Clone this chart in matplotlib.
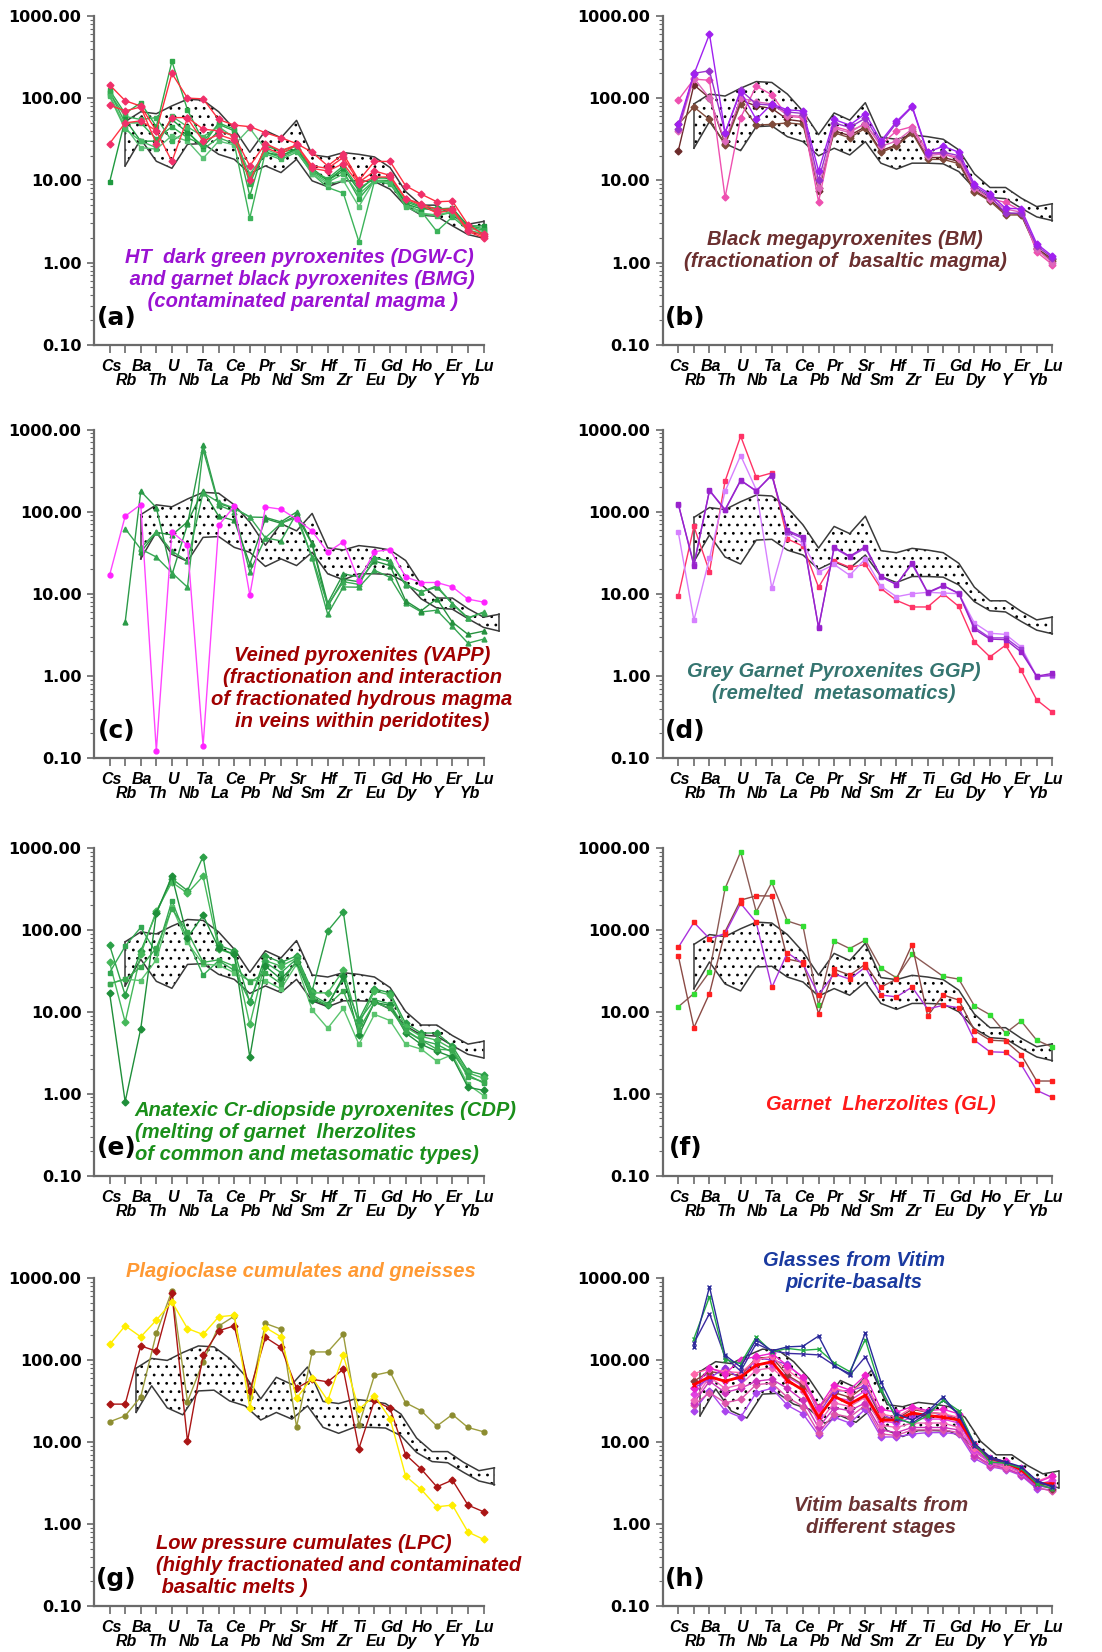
import numpy as np
import matplotlib
matplotlib.use("Agg")
import matplotlib.pyplot as plt
from matplotlib.ticker import FixedLocator, LogLocator, NullFormatter, FuncFormatter

nan = np.nan

ELEMENTS = ["Cs", "Rb", "Ba", "Th", "U", "Nb", "Ta", "La", "Ce", "Pb", "Pr", "Nd", "Sr",
            "Sm", "Hf", "Zr", "Ti", "Eu", "Gd", "Dy", "Ho", "Y", "Er", "Yb", "Lu"]
Y_TICKS = [0.1, 1, 10, 100, 1000]

# Stippled reference field (upper / lower envelope)
FIELD_UPPER = [nan, 85, 112, 106, 132, 159, 155, 112, 69, 36, 66, 54, 88, 33.5, 31.6, 35.7,
               34, 31.6, 23.5, 12, 8.2, 8.2, 6.1, 4.8, 5.2]
FIELD_LOWER = [nan, 24.6, 52, 28, 23, 45, 46, 34, 29.6, 19.9, 24.6, 20.4, 29.6, 16.2, 13.7,
               16.2, 16.2, 15.9, 12.8, 8.0, 6.2, 6.0, 4.6, 3.6, 3.25]
FIELD_SCALE = [0.61, 1.0, 1.08, 1.0, 0.84, 0.78, 0.93, 0.85]
FIELD_SHIFT = [0.0, 0.0, 1.0, 0.0, 0.0, 0.0, 0.7, 0.4]

# (a) DGW-C and BMG pyroxenites
A_RED_1 = [145, 93, 80, 40, 200, 100, 98, 55, 47, 45, 38, 33, 28, 22, 15, 21, 10, 17, 17, 8.6, 6.8, 5.5, 5.6, 2.9, 2.2]
A_RED_2 = [82, 70, 78, 28, 58, 58, 42, 40, 35, 15, 28, 23, 27, 15, 14, 19, 9.5, 13, 11.5, 6, 5.2, 4.4, 4.5, 2.5, 2.1]
A_RED_3 = [28, 50, 53, 40, 17, 57, 30, 36, 31, 10, 25, 21, 27, 14, 13, 16, 9, 11, 11, 6, 5, 4, 4.4, 2.4, 2.0]
A_GREEN_1 = [125, 65, 88, 45, 280, 72, 30, 48, 40, 6.5, 28, 22, 24, 13, 10, 13, 6, 10, 10, 5.5, 4.7, 4.2, 4.3, 2.8, 2.6]
A_GREEN_2 = [115, 60, 55, 58, 30, 40, 24, 33, 28, 3.5, 22, 19, 23, 12, 8.2, 7, 1.8, 9.8, 9, 5, 4.2, 2.4, 3.6, 2.5, 2.2]
A_GREEN_3 = [110, 45, 25, 24, 35, 30, 18.5, 30, 27, 43, 24, 20, 23, 12, 9, 10, 4.8, 10, 9.5, 5.3, 4, 3.8, 4.2, 2.6, 2.4]
A_GREEN_4 = [9.5, 55, 30, 30, 55, 38, 26, 40, 35, 10, 22, 20, 24, 14, 10, 14, 7.5, 11, 10.5, 5.2, 4.5, 4.5, 4.6, 2.8, 2.8]
A_GREEN_5 = [120, 50, 50, 32, 45, 33, 27, 50, 42, 9, 26, 23, 26, 13, 10.5, 15, 8, 10.5, 11, 5.8, 4.8, 4.6, 4.4, 2.7, 2.5]
A_GREEN_6 = [105, 42, 30, 25, 60, 45, 34, 45, 33, 12, 21, 18, 22, 12.5, 9.5, 12, 6.8, 10, 9.5, 4.8, 3.9, 3.7, 4.1, 2.4, 2.3]

# (b) Black megapyroxenites
B_PURPLE_1 = [48, 195, 600, 38, 120, 55, 85, 72, 70, 13, 55, 47, 65, 30, 52, 80, 22, 26, 22, 9, 6.8, 4.6, 4.5, 1.7, 1.2]
B_PURPLE_2 = [42, 200, 215, 38, 125, 85, 82, 68, 65, 10, 50, 44, 57, 28, 50, 78, 21, 22, 20, 8.5, 6.5, 4, 4.0, 1.6, 1.15]
B_PINK_1 = [95, 170, 165, 6.2, 58, 140, 110, 60, 58, 5.5, 45, 40, 48, 27, 40, 45, 22, 21, 19, 8, 6, 5.4, 4.3, 1.35, 0.95]
B_PINK_2 = [40, 175, 100, 30, 100, 90, 85, 62, 60, 8, 43, 38, 50, 26, 30, 42, 20, 21, 18, 8, 6, 4.5, 4.1, 1.45, 1.0]
B_BROWN_1 = [23, 145, 100, 28, 95, 80, 75, 55, 52, 7.5, 40, 35, 45, 23, 27, 40, 19, 19, 17, 7.5, 5.8, 4, 3.9, 1.5, 1.1]
B_BROWN_2 = [48, 78, 55, 27, 85, 47, 48, 50, 48, 8, 38, 33, 43, 22, 26, 38, 18, 18, 16, 7.3, 5.6, 3.8, 3.8, 1.45, 1.05]

# (c) Veined pyroxenites
C_MAGENTA = [16.8, 88, 122, 0.122, 57, 39, 0.14, 68, 116, 9.6, 114, 107, 81, 58, 32, 43, 14.3, 32.6, 34.5, 16, 13.7, 13.7, 12.1, 8.6, 7.9]
C_GREEN_1 = [nan, 4.5, 177, 112, 17, 70, 650, 125, 110, 86, 85, 75, 99, 41, 7.7, 17.5, 16, 28, 24.5, 12.7, 10.6, 12, 7.6, 5.1, 5.9]
C_GREEN_2 = [nan, 62, 35, 28, 18, 12, 570, 120, 100, 18.4, 48, 44, 95, 27, 5.6, 12.1, 12, 19.3, 15.8, 7.7, 6, 6.3, 4.0, 2.5, 2.8]
C_GREEN_3 = [nan, nan, 32, 56, 52, 75, 180, 88, 78, 23, 82, 72, 90, 40, 7, 15, 14, 25, 22, 8.2, 6.2, 8.7, 4.5, 3.2, 3.5]
C_GREEN_4 = [nan, nan, 36, 57, 33, 25, 170, 130, 110, 86, 48, 72, 85, 28, 7.3, 14, 13, 27, 25, 13, 10.5, 12.5, 7.5, 5, 6]

# (d) Grey garnet pyroxenites
D_RED = [9.3, 66, 18.6, 235, 830, 262, 296, 46.5, 38, 12, 25, 21, 22.7, 11.6, 8.3, 6.9, 6.9, 10, 7, 2.6, 1.7, 2.36, 1.17, 0.51, 0.36]
D_VIOLET = [56, 4.75, 27, 177, 482, 185, 11.6, 55, 41, 18.3, 22.7, 16.8, 26.5, 12.4, 9.2, 10, 10.4, 10.2, 10, 4.4, 3.3, 3.2, 2.25, 0.99, 1.0]
D_PURPLE_1 = [124, 22, 182, 106, 242, 177, 283, 59, 49, 3.84, 37, 28.6, 37.5, 16.3, 12.9, 23.8, 10.4, 12.6, 10, 3.7, 2.8, 2.76, 1.95, 0.99, 1.07]
D_PURPLE_2 = [122, 23, 180, 104, 238, 180, 275, 57, 47, 3.9, 36, 28, 36, 16, 13, 23, 10.2, 12.4, 10.2, 3.9, 2.9, 2.9, 2.1, 0.97, 1.02]

# (e) Cr-diopside pyroxenites
E_GREEN_1 = [65, 16, 55, 160, 420, 300, 780, 65, 55, 13, 48, 40, 48, 18, 97, 165, 8, 19, 17, 7.2, 5.5, 5.5, 3.8, 1.9, 1.7]
E_GREEN_2 = [40, 7.5, 50, 170, 380, 280, 450, 58, 50, 7, 42, 36, 45, 17, 17, 32, 7, 18, 16, 6.5, 5, 4.5, 3.5, 1.8, 1.55]
E_GREEN_3 = [30, 63, 107, 52, 225, 75, 28, 42, 32, 13.5, 40, 30, 44, 16, 12.5, 25, 7.8, 14, 12.5, 6, 4.5, 4, 3.2, 1.7, 1.35]
E_GREEN_4 = [22, 25, 24, 43, 190, 70, 38, 37, 30, 24, 24, 19, 38, 10.5, 6.3, 11, 4, 9.3, 7.8, 4, 3.5, 2.5, 3, 1.3, 0.95]
E_GREEN_5 = [17, 0.8, 6.2, 160, 450, 80, 150, 60, 50, 2.8, 36, 25, 40, 14, 12, 27, 5.2, 13, 12, 5.5, 4, 3.3, 2.8, 1.2, 1.1]
E_GREEN_6 = [22, 25, 35, 60, 180, 95, 40, 43, 36, 23, 30, 22, 42, 15, 12, 18, 6, 13, 11, 5.8, 4.5, 3.5, 3.4, 1.6, 1.4]

# (f) Garnet lherzolites
F_GREEN = [11.5, 16.7, 30.7, 319, 894, 166, 378, 128, 111, 12, 73, 59, 75, 34, 26, 50, nan, 27, 25, 11.8, 9.2, 5.5, 7.7, 4.5, 3.7]
F_RED_1 = [48, 6.4, 16.7, 95, 230, 260, 258, 44, 40, 9.5, 33, 28, 38, 20, 25, 66, 8.9, 16, 13.9, 5.9, 4.5, 4.4, 3.0, 1.43, 1.43]
F_RED_2 = [61, 123, 78, 90, 210, 123, 19.8, 52.5, 38.6, 16, 29, 25, 35, 16, 15.2, 20, 10.8, 12, 11.2, 4.5, 3.25, 3.2, 2.28, 1.1, 0.9]

# (g) Low pressure cumulates, plagioclase cumulates and gneisses
G_YELLOW = [154, 260, 191, 305, 510, 241, 204, 335, 350, 26, 248, 191, 34, 61, 32, 114, 25, 36.5, 19.3, 3.84, 2.64, 1.62, 1.7, 0.8, 0.65]
G_DARKRED = [28.9, 28.9, 148, 128, 645, 10.2, 114, 226, 260, 42, 188, 142, 45, 58, 54, 77, 8.3, 32, 25.6, 7.0, 4.67, 2.84, 3.43, 1.7, 1.41]
G_OLIVE = [17.6, 20.8, 35.5, 210, 695, 31, 95, 258, 341, 35.5, 278, 237, 15.3, 125, 125, 204, 16, 65, 71.6, 30, 24, 15.6, 21.6, 15, 13.3]

# (h) Vitim glasses and basalts
H_GLASS_1 = [nan, 144, 776, 114, 82, 177, 129, 144, 147, 195, 84, 68, 214, 54, 22, 18.5, 23.6, 35.5, 21, 9.6, 6.6, 5.7, 5.0, 3.4, 2.84]
H_GLASS_2 = [nan, 182, 587, 101, 90, 190, 125, 138, 131, 135, 92, 72, 177, 43, 20, 16.5, 21, 32.5, 24, 9.6, 5.7, 5.5, 4.8, 3.1, 2.7]
H_GLASS_3 = [nan, 160, 367, 108, 73, 158, 129, 120, 118, 115, 86, 65, 109, 45, 19, 17, 22.5, 32, 22, 9, 6.3, 5.5, 4.8, 3.2, 2.9]
H_BASALT_RED = [nan, 50, 62, 55, 62, 86, 95, 56, 43, 20, 36, 29, 37, 18.5, 18.5, 22.6, 21, 20, 18.5, 9.2, 6.3, 5.6, 4.6, 3.1, 3.1]
H_BASALT_1 = [nan, 45, 80, 68, 100, 110, 120, 85, 62, 26, 50, 43, 65, 25, 23, 27, 24, 25, 22, 9.5, 6.4, 5.8, 4.8, 3.2, 3.8]
H_BASALT_2 = [nan, 68, 78, 72, 70, 100, 110, 75, 55, 24, 45, 40, 55, 22, 20, 26, 23, 22, 20, 8.5, 6, 5.3, 4.5, 3.3, 3.9]
H_BASALT_3 = [nan, 55, 72, 68, 65, 105, 108, 65, 50, 27, 40, 35, 48, 20, 19, 25, 23, 22, 19, 8.8, 6, 5.4, 4.5, 3.0, 2.7]
H_BASALT_4 = [nan, 45, 60, 80, 58, 105, 100, 88, 60, 22, 42, 42, 48, 22, 18, 22, 20, 22, 18, 8.5, 5.8, 5.4, 4.3, 2.9, 2.8]
H_BASALT_5 = [nan, 32, 62, 45, 50, 75, 80, 55, 42, 17, 30, 27, 35, 16, 15, 17, 17, 17, 15, 7.8, 5.5, 5, 4.2, 2.9, 3.0]
H_BASALT_6 = [nan, 30, 55, 40, 45, 55, 58, 45, 32, 15, 26, 24, 30, 14, 13, 15, 15, 15, 14, 7, 5.3, 4.8, 4, 2.8, 3.2]
H_BASALT_7 = [nan, 24, 42, 24, 20, 40, 45, 28, 22, 12, 20, 17, 25, 11.5, 11.5, 12.5, 13, 13, 12.5, 6.3, 5, 4.6, 3.9, 2.7, 2.6]
H_BASALT_8 = [nan, 28, 40, 30, 33, 50, 52, 35, 27, 13, 22, 20, 28, 12.5, 12, 14, 14, 14, 13, 6.8, 5.1, 4.7, 4, 2.8, 2.5]
H_BASALT_9 = [nan, 38, 65, 55, 60, 88, 90, 62, 48, 20, 35, 32, 42, 18, 17, 20, 19, 19, 17, 8, 5.7, 5.2, 4.4, 3.0, 3.4]

LABEL_FONT = "Liberation Sans"
AXIS_GREY = "#6a6a6a"

plt.rcParams["font.family"] = ["DejaVu Sans"]
plt.rcParams["hatch.linewidth"] = 0.8

fig = plt.figure(figsize=(11.02, 16.52), dpi=100)

LEFT_X, RIGHT_X, AX_W = 0.0853, 0.6014, 0.3535
ROWS = [(0.7912, 0.1992), (0.5412, 0.1988), (0.2883, 0.1985), (0.0278, 0.1987)]


def setup_axes(ax):
    ax.set_yscale("log")
    ax.set_ylim(0.1, 1000)
    ax.set_xlim(-1, 24)
    for s in ("top", "right"):
        ax.spines[s].set_visible(False)
    for s in ("left", "bottom"):
        ax.spines[s].set_color(AXIS_GREY)
        ax.spines[s].set_linewidth(1.6)
    ax.yaxis.set_major_locator(FixedLocator(Y_TICKS))
    ax.yaxis.set_major_formatter(FuncFormatter(lambda v, p: f"{v:.2f}"))
    ax.yaxis.set_minor_locator(LogLocator(base=10, subs=range(2, 10), numticks=50))
    ax.yaxis.set_minor_formatter(NullFormatter())
    ax.tick_params(axis="y", which="major", length=5, width=1.2, color=AXIS_GREY,
                   labelsize=11.5, pad=4)
    ax.tick_params(axis="y", which="minor", length=3, width=0.8, color=AXIS_GREY)
    for lab in ax.get_yticklabels():
        lab.set_fontweight("bold")
    ax.set_xticks(range(len(ELEMENTS)))
    ax.tick_params(axis="x", length=6, width=1.2, color=AXIS_GREY, labelbottom=False)
    for i, el in enumerate(ELEMENTS):
        ax.annotate(el, xy=(i, 0), xycoords=("data", "axes fraction"),
                    xytext=(1, -15.5 if i % 2 == 0 else -25.5), textcoords="offset points",
                    ha="center", va="center", fontsize=11.5, fontweight="bold",
                    fontstyle="italic", family=LABEL_FONT)


def draw_field(ax, scale, shift):
    x = np.arange(len(ELEMENTS)) + shift
    up = np.array(FIELD_UPPER, float) * scale
    lo = np.array(FIELD_LOWER, float) * scale
    m = np.isfinite(up) & np.isfinite(lo)
    x, up, lo = x[m], up[m], lo[m]
    ax.fill_between(x, lo, up, facecolor="none", edgecolor="black", hatch="..",
                    linewidth=0, clip_on=False, zorder=1)
    kw = dict(color="#3a3a3a", lw=1.1, clip_on=False, zorder=2)
    ax.plot(x, up, **kw)
    ax.plot(x, lo, **kw)
    ax.plot([x[0], x[0]], [lo[0], up[0]], **kw)
    ax.plot([x[-1], x[-1]], [lo[-1], up[-1]], **kw)


def draw_series(ax, values, color, marker="s", mcolor=None, ms=3.5, lw=1.0, mfc=None, z=3):
    y = np.array(values, float)
    x = np.arange(len(y))
    m = np.isfinite(y)
    mc = mcolor or color
    ax.plot(x[m], y[m], color=color, lw=lw, marker=marker, ms=ms,
            mfc=mfc if mfc is not None else mc, mec=mc, mew=1.0, zorder=z, clip_on=False)


def note(ax, x, y, text, color, ha="center"):
    ax.text(x, y, text, color=color, ha=ha, va="center", multialignment=ha,
            fontsize=14.5, fontweight="bold", fontstyle="italic", family=LABEL_FONT,
            linespacing=1.2, zorder=5)


PANELS = [
    dict(tag="(a)", series=[
        (A_GREEN_1, "#2ea84a", "s", None), (A_GREEN_2, "#3cb35a", "s", None),
        (A_GREEN_3, "#5cc276", "s", None), (A_GREEN_4, "#1f9a3f", "s", None),
        (A_GREEN_5, "#33ac50", "s", None), (A_GREEN_6, "#48ba64", "s", None),
        (A_RED_1, "#ff2d3d", "D", "#f0306a"), (A_RED_2, "#ff3040", "D", "#f0306a"),
        (A_RED_3, "#ff3545", "D", "#f0306a")],
        notes=[(12.2, 0.62, "HT  dark green pyroxenites (DGW-C)\n and garnet black pyroxenites (BMG)\n (contaminated parental magma )", "#9a12d2", "center")]),
    dict(tag="(b)", series=[
        (B_BROWN_1, "#6b2a2a", "D", None), (B_BROWN_2, "#7f4a3a", "D", None),
        (B_PINK_1, "#ee50b0", "D", None), (B_PINK_2, "#dd66bb", "D", None),
        (B_PURPLE_2, "#9933cc", "D", None), (B_PURPLE_1, "#a020f0", "D", None)],
        notes=[(10.7, 1.42, "Black megapyroxenites (BM)\n(fractionation of  basaltic magma)", "#6b2f2f", "center")]),
    dict(tag="(c)", series=[
        (C_GREEN_1, "#2b9a48", "^", None), (C_GREEN_2, "#35a552", "^", None),
        (C_GREEN_3, "#26913f", "^", None), (C_GREEN_4, "#3aaa56", "^", None),
        (C_MAGENTA, "#ff44ff", "o", "#ff22ff")],
        notes=[(16.2, 0.70, "Veined pyroxenites (VAPP)\n(fractionation and interaction\nof fractionated hydrous magma\nin veins within peridotites)", "#a00000", "center")]),
    dict(tag="(d)", series=[
        (D_RED, "#ff3366", "s", None), (D_VIOLET, "#d680ff", "s", None),
        (D_PURPLE_2, "#a040d8", "s", None), (D_PURPLE_1, "#9922cc", "s", None)],
        notes=[(10.0, 0.84, "Grey Garnet Pyroxenites GGP)\n(remelted  metasomatics)", "#357570", "center")]),
    dict(tag="(e)", series=[
        (E_GREEN_1, "#2ca048", "D", None), (E_GREEN_2, "#45b85a", "D", None),
        (E_GREEN_3, "#33a852", "s", None), (E_GREEN_4, "#5ac46e", "s", None),
        (E_GREEN_5, "#1f8f3a", "D", None), (E_GREEN_6, "#3aaa50", "s", None)],
        notes=[(1.6, 0.34, "Anatexic Cr-diopside pyroxenites (CDP)\n(melting of garnet  lherzolites\nof common and metasomatic types)", "#1a8f1a", "left")]),
    dict(tag="(f)", series=[
        (F_GREEN, "#8b5a55", "s", "#33dd33"), (F_RED_1, "#8b4a45", "s", "#ff2020"),
        (F_RED_2, "#aa33dd", "s", "#ff2020")],
        notes=[(13.0, 0.73, "Garnet  Lherzolites (GL)", "#ff1a1a", "center")]),
    dict(tag="(g)", series=[
        (G_OLIVE, "#9c9c3c", "o", "#8c8c30"), (G_DARKRED, "#aa1515", "D", None),
        (G_YELLOW, "#ffee00", "D", None)],
        notes=[(12.3, 1183, "Plagioclase cumulates and gneisses", "#ff9933", "center"),
               (2.96, 0.316, "Low pressure cumulates (LPC)\n(highly fractionated and contaminated\n basaltic melts )", "#a00000", "left")]),
    dict(tag="(h)", series=[
        (H_BASALT_7, "#aa44ee", "D", None), (H_BASALT_8, "#dd55aa", "D", None),
        (H_BASALT_6, "#cc33bb", "D", None), (H_BASALT_5, "#ee66bb", "D", None),
        (H_BASALT_9, "#e040e0", "D", None), (H_BASALT_3, "#8b3a3a", "D", None),
        (H_BASALT_4, "#9933dd", "D", None), (H_BASALT_2, "#ff66aa", "D", None),
        (H_BASALT_1, "#ee22cc", "D", None), (H_BASALT_RED, "#ff0000", "x", None),
        (H_GLASS_3, "#3a2aa0", "x", None), (H_GLASS_2, "#22aa44", "x", None),
        (H_GLASS_1, "#2a2a9a", "x", None)],
        notes=[(11.3, 1183, "Glasses from Vitim\npicrite-basalts", "#1a3aa0", "center"),
               (13.0, 1.25, "Vitim basalts from\ndifferent stages", "#6b3333", "center")]),
]

for k, panel in enumerate(PANELS):
    row, col = divmod(k, 2)
    bottom, height = ROWS[row]
    ax = fig.add_axes([LEFT_X if col == 0 else RIGHT_X, bottom, AX_W, height])
    setup_axes(ax)
    draw_field(ax, FIELD_SCALE[k], FIELD_SHIFT[k])
    for vals, color, marker, mcolor in panel["series"]:
        lw = 2.0 if vals is H_BASALT_RED else 1.0
        draw_series(ax, vals, color, marker=marker, mcolor=mcolor, lw=lw)
    for x, y, text, color, ha in panel["notes"]:
        note(ax, x, y, text, color, ha)
    ax.text(0.45, 0.215, panel["tag"], fontsize=18, fontweight="bold",
            ha="center", va="center", zorder=5)

fig.savefig("out.png", dpi=100)
